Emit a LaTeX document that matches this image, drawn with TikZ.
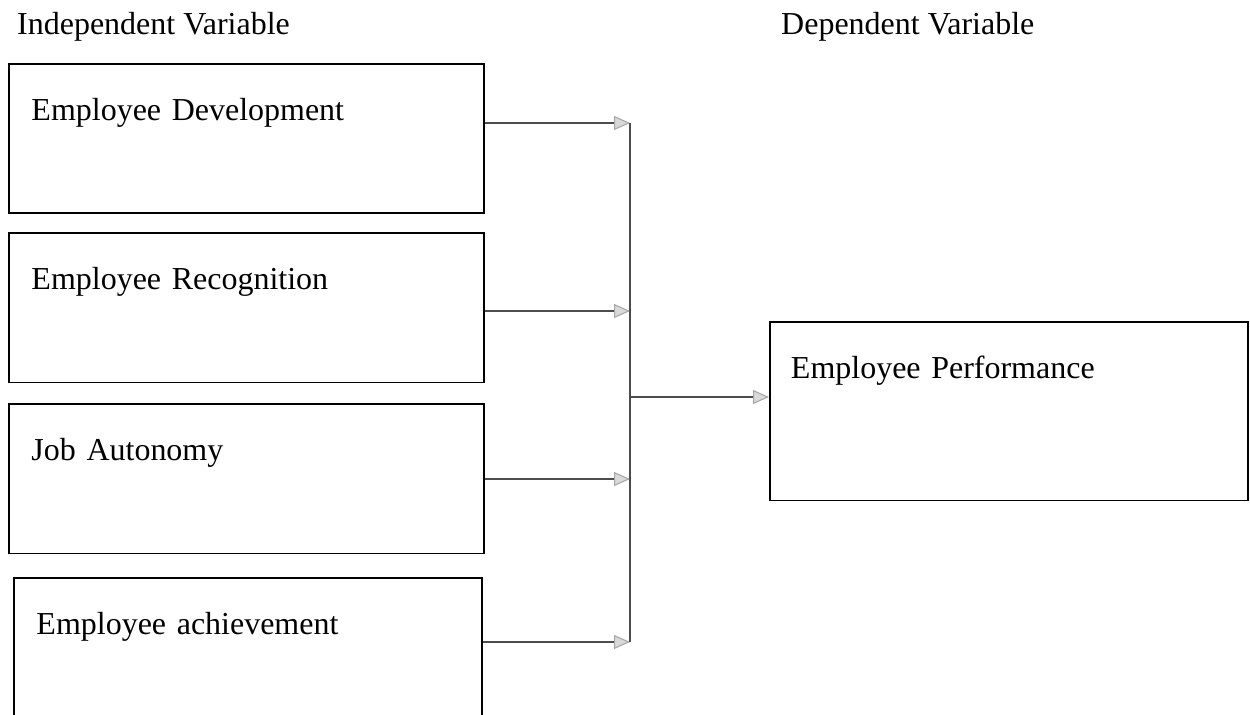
\documentclass[tikz,border=0pt]{standalone}
\usepackage{fontspec}
\setmainfont{Liberation Serif}
\usetikzlibrary{arrows.meta}
\begin{document}
\begin{tikzpicture}[font=\fontsize{18.2}{22}\selectfont]

        \useasboundingbox (0,0) rectangle (25,14.28);
        \clip (0,0) rectangle (25,14.28);

        \node[anchor=base west] (indep) at (0.22,13.58) {Independent Variable};
        \node[anchor=base west] (dep)   at (15.5,13.58) {Dependent Variable};

        \begin{scope}[every node/.style={draw, line width=1.1pt, anchor=north west,
            inner ysep=0pt, inner xsep=0.45cm, text width=8.6cm, align=left,
            text height=1.13cm, text depth=1.86cm}]
          \node (dev)  at (0.16,13.02) {Employee Development};
          \node (rec)  at (0.16,9.64)  {Employee Recognition};
          \node (aut)  at (0.16,6.22)  {Job Autonomy};
          \node[text width=8.46cm] (ach)  at (0.26,2.74)  {Employee achievement};
          \node[inner xsep=0.42cm, text width=8.72cm, text depth=2.44cm] (perf) at (15.38,7.86) {Employee Performance};
        \end{scope}

        \coordinate (in1) at (12.6,11.82);
        \coordinate (in2) at (12.6,8.06);
        \coordinate (in3) at (12.6,4.70);
        \coordinate (in4) at (12.6,1.44);
        \coordinate (hub) at (12.6,6.34);

        \begin{scope}[every edge/.style={draw, gray!60!black, line width=0.6pt,
            -{Triangle[length=0.32cm, width=0.28cm, fill=gray!30, color=gray!70]}}]
          \path (dev.east |- in1) edge (in1);
          \path (rec.east |- in2) edge (in2);
          \path (aut.east |- in3) edge (in3);
          \path (ach.east |- in4) edge (in4);
          \path (hub) edge (perf.west |- hub);
        \end{scope}
        \draw[gray!60!black, line width=0.6pt] (in1) -- (in4);

      \end{tikzpicture}
\end{document}
